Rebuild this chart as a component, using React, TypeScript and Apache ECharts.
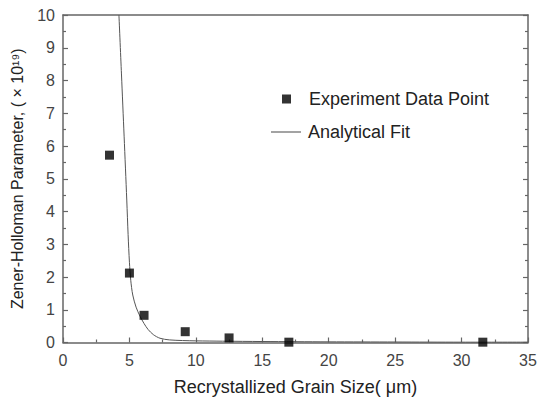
import React, { useEffect, useRef } from "react";
import * as echarts from "echarts";

const expX = [3.5, 5.0, 6.1, 9.2, 12.5, 17.0, 31.6];
const expY = [5.72, 2.12, 0.83, 0.33, 0.14, 0.01, 0.01];

const fitX = [4.21, 4.4, 4.6, 4.8, 4.9, 5.0, 5.1, 5.25, 5.5, 5.8, 6.1, 6.4, 6.8, 7.3, 8.0, 9.0, 10.0, 12.0, 15.0, 20.0, 25.0, 30.0, 35.0];
const fitY = [10, 8.2, 6.3, 4.35, 3.3, 2.45, 1.9, 1.45, 1.08, 0.8, 0.58, 0.4, 0.24, 0.13, 0.08, 0.06, 0.05, 0.04, 0.03, 0.02, 0.015, 0.01, 0.01];

const xTicks = [0, 5, 10, 15, 20, 25, 30, 35];
const yTicks = [0, 1, 2, 3, 4, 5, 6, 7, 8, 9, 10];

const SERIES_EXP = "Experiment Data Point";
const SERIES_FIT = "Analytical Fit";

export default function App() {
  const ref = useRef<HTMLDivElement>(null);
  useEffect(() => {
    if (!ref.current) return;
    const chart = echarts.init(ref.current, undefined, { renderer: "svg" });
    const axisColor = "#666";
    const font = "Liberation Sans";
    chart.setOption({
      animation: false,
      backgroundColor: "#fff",
      textStyle: { fontFamily: font },
      grid: { left: 63, right: 12, top: 15, bottom: 62.5 },
      legend: [
        {
          data: [{ name: SERIES_EXP, icon: "rect" }],
          left: 277,
          top: 85,
          itemWidth: 9,
          itemHeight: 9,
          textStyle: { fontSize: 18, color: "#222", fontFamily: font, padding: [0, 0, 0, 13] },
          selectedMode: false,
        },
        {
          data: [{ name: SERIES_FIT, icon: "rect", itemStyle: { color: "#666" } }],
          left: 266,
          top: 118,
          itemWidth: 30,
          itemHeight: 1.2,
          textStyle: { fontSize: 18, color: "#222", fontFamily: font, padding: [0, 0, 0, 2] },
          selectedMode: false,
        },
      ],
      xAxis: [
        {
          type: "value",
          min: xTicks[0],
          max: xTicks[xTicks.length - 1],
          interval: 5,
          name: "Recrystallized Grain Size( \u03bcm)",
          nameLocation: "middle",
          nameGap: 35,
          nameTextStyle: { fontSize: 18, color: "#222", fontFamily: font },
          axisLine: { show: true, onZero: false, lineStyle: { color: axisColor, width: 1.5 } },
          axisTick: { show: true, inside: true, length: 5, lineStyle: { color: axisColor, width: 1.2 } },
          minorTick: { show: true, splitNumber: 2, length: 3, lineStyle: { color: axisColor, width: 1.2 } },
          axisLabel: { fontSize: 16, color: "#444", margin: 10, fontFamily: font },
          splitLine: { show: false },
        },
        {
          type: "value",
          position: "top",
          min: xTicks[0],
          max: xTicks[xTicks.length - 1],
          interval: 5,
          axisLine: { show: true, onZero: false, lineStyle: { color: axisColor, width: 1.5 } },
          axisTick: { show: false },
          axisLabel: { show: false },
          splitLine: { show: false },
        },
      ],
      yAxis: [
        {
          type: "value",
          min: yTicks[0],
          max: yTicks[yTicks.length - 1],
          interval: 1,
          name: "Zener-Holloman Parameter, ( \u00d7 10\u00b9\u2079)",
          nameLocation: "middle",
          nameGap: 38,
          nameTextStyle: { fontSize: 16, color: "#222", fontFamily: font },
          axisLine: { show: true, onZero: false, lineStyle: { color: axisColor, width: 1.5 } },
          axisTick: { show: true, inside: true, length: 5, lineStyle: { color: axisColor, width: 1.2 } },
          minorTick: { show: true, splitNumber: 2, length: 3, lineStyle: { color: axisColor, width: 1.2 } },
          axisLabel: { fontSize: 16, color: "#444", margin: 8, fontFamily: font },
          splitLine: { show: false },
        },
        {
          type: "value",
          position: "right",
          min: yTicks[0],
          max: yTicks[yTicks.length - 1],
          interval: 1,
          axisLine: { show: true, onZero: false, lineStyle: { color: axisColor, width: 1.5 } },
          axisTick: { show: true, inside: true, length: 5, lineStyle: { color: axisColor, width: 1.2 } },
          minorTick: { show: true, splitNumber: 2, length: 3, lineStyle: { color: axisColor, width: 1.2 } },
          axisLabel: { show: false },
          splitLine: { show: false },
        },
      ],
      series: [
        {
          name: SERIES_FIT,
          type: "line",
          data: fitX.map((x, i) => [x, fitY[i]]),
          smooth: 0.3,
          symbol: "none",
          showSymbol: false,
          lineStyle: { color: "#555", width: 1 },
          itemStyle: { color: "#555" },
          clip: true,
        },
        {
          name: SERIES_EXP,
          type: "scatter",
          data: expX.map((x, i) => [x, expY[i]]),
          symbol: "rect",
          symbolSize: 9,
          itemStyle: { color: "#000" },
          z: 5,
        },
      ],
    });
    return () => chart.dispose();
  }, []);
  return <div ref={ref} style={{ width: 540, height: 405, position: "fixed", left: 0, top: 0 }} />;
}
